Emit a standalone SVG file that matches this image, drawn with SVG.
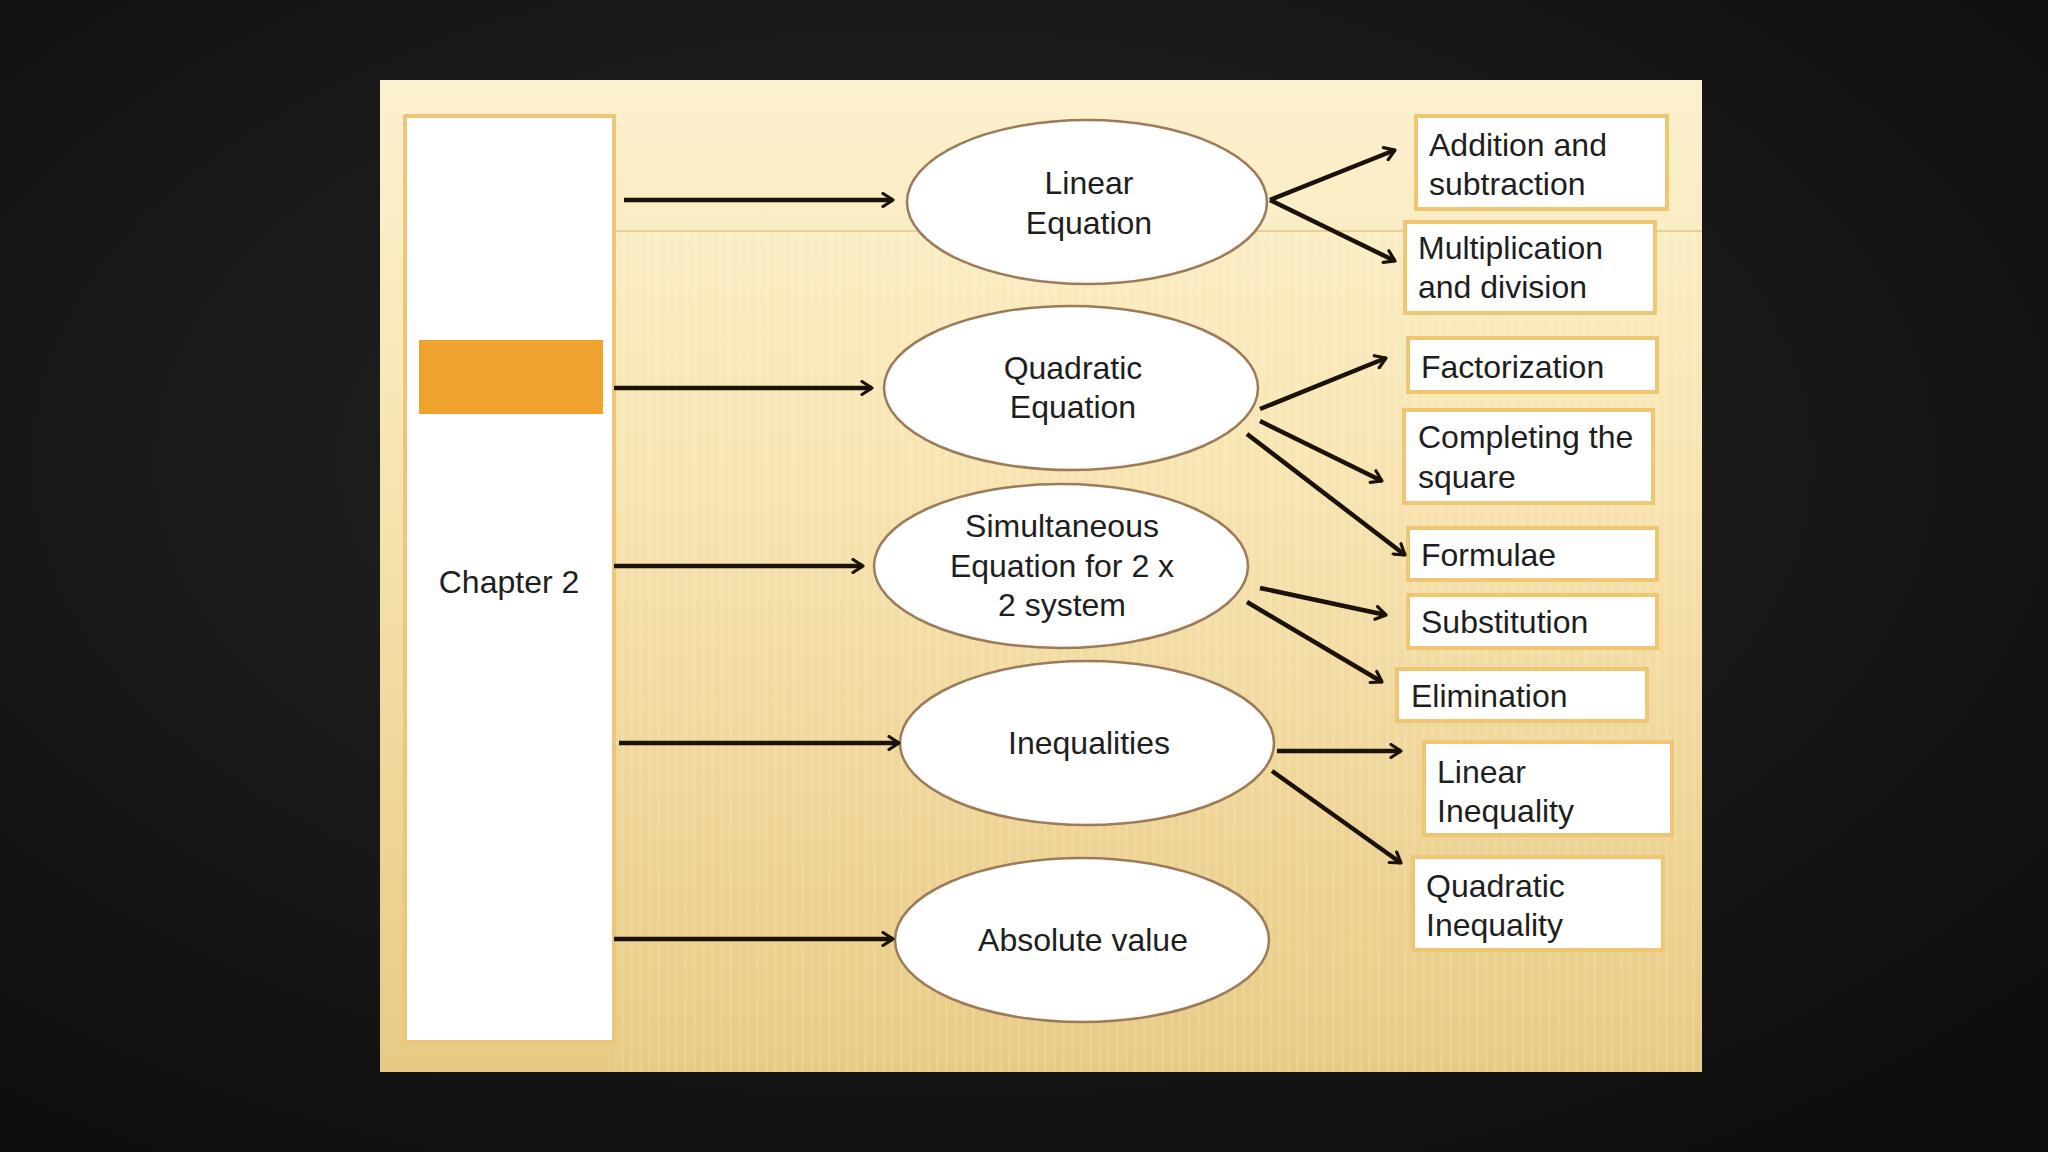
<svg xmlns="http://www.w3.org/2000/svg" width="2048" height="1152" viewBox="0 0 2048 1152">
  <defs>
    <radialGradient id="bg" cx="45%" cy="40%" r="75%">
      <stop offset="0" stop-color="#262626"/>
      <stop offset="1" stop-color="#0d0d0d"/>
    </radialGradient>
    <linearGradient id="panel" x1="0" y1="0" x2="0" y2="1">
      <stop offset="0" stop-color="#fcf1cf"/>
      <stop offset="0.35" stop-color="#f8e6b4"/>
      <stop offset="1" stop-color="#e8ca84"/>
    </linearGradient>
    <radialGradient id="ell" cx="48%" cy="45%" r="60%">
      <stop offset="0" stop-color="#ffffff"/>
      <stop offset="0.85" stop-color="#ffffff"/>
      <stop offset="1" stop-color="#f8f3ec"/>
    </radialGradient>
    <pattern id="stripes" width="9" height="40" patternUnits="userSpaceOnUse">
      <rect x="0" y="0" width="3" height="40" fill="#ffffff" opacity="0.18"/>
    </pattern>
    <marker id="arr" viewBox="0 0 16 16" refX="13" refY="8" markerWidth="16" markerHeight="16" markerUnits="userSpaceOnUse" orient="auto">
      <polyline points="3,1.5 13,8 3,14.5" fill="none" stroke="#1b120a" stroke-width="3.2" stroke-linecap="round" stroke-linejoin="round"/>
    </marker>
    <style>
      .ellipse { fill: url(#ell); stroke: #9c7b5a; stroke-width: 2.5; }
      .box { fill: #ffffff; stroke: #f0c672; stroke-width: 4; }
      .t { font-family: "Liberation Sans", Arial, sans-serif; font-size: 32px; fill: #1e1e1e; }
      .c { text-anchor: middle; }
      .conn line { stroke: #1b120a; stroke-width: 4.5; marker-end: url(#arr); }
    </style>
  </defs>

  <rect x="0" y="0" width="2048" height="1152" fill="url(#bg)"/>

  <g id="panel">
    <rect x="380" y="80" width="1322" height="992" fill="url(#panel)"/>
    <rect x="614" y="232" width="1088" height="840" fill="url(#stripes)" opacity="0.6"/>
    <line x1="614" y1="231" x2="1702" y2="231" stroke="#e6d09a" stroke-width="2"/>
  </g>

  <g id="chapter">
    <rect x="405" y="116" width="209" height="926" fill="#ffffff" stroke="#ecc779" stroke-width="4"/>
    <rect x="419" y="340" width="184" height="74" fill="#f0a22f"/>
    <text class="t c" x="509" y="593">Chapter 2</text>
  </g>

  <g id="linear-equation">
    <ellipse class="ellipse" cx="1087" cy="202" rx="180" ry="82"/>
    <text class="t c" x="1089" y="194">Linear</text>
    <text class="t c" x="1089" y="234">Equation</text>
  </g>
  <g id="quadratic-equation">
    <ellipse class="ellipse" cx="1071" cy="388" rx="187" ry="82"/>
    <text class="t c" x="1073" y="379">Quadratic</text>
    <text class="t c" x="1073" y="418">Equation</text>
  </g>
  <g id="simultaneous-equation">
    <ellipse class="ellipse" cx="1061" cy="566" rx="187" ry="82"/>
    <text class="t c" x="1062" y="537">Simultaneous</text>
    <text class="t c" x="1062" y="577">Equation for 2 x</text>
    <text class="t c" x="1062" y="616">2 system</text>
  </g>
  <g id="inequalities">
    <ellipse class="ellipse" cx="1087" cy="743" rx="187" ry="82"/>
    <text class="t c" x="1089" y="754">Inequalities</text>
  </g>
  <g id="absolute-value">
    <ellipse class="ellipse" cx="1082" cy="940" rx="187" ry="82"/>
    <text class="t c" x="1083" y="951">Absolute value</text>
  </g>

  <g id="addition-subtraction">
    <rect class="box" x="1416" y="116" width="251" height="93"/>
    <text class="t" x="1429" y="156">Addition and</text>
    <text class="t" x="1429" y="195">subtraction</text>
  </g>
  <g id="multiplication-division">
    <rect class="box" x="1405" y="222" width="250" height="91"/>
    <text class="t" x="1418" y="259">Multiplication</text>
    <text class="t" x="1418" y="298">and division</text>
  </g>
  <g id="factorization">
    <rect class="box" x="1408" y="338" width="249" height="54"/>
    <text class="t" x="1421" y="378">Factorization</text>
  </g>
  <g id="completing-square">
    <rect class="box" x="1404" y="410" width="249" height="93"/>
    <text class="t" x="1418" y="448">Completing the</text>
    <text class="t" x="1418" y="488">square</text>
  </g>
  <g id="formulae">
    <rect class="box" x="1408" y="528" width="249" height="52"/>
    <text class="t" x="1421" y="566">Formulae</text>
  </g>
  <g id="substitution">
    <rect class="box" x="1408" y="595" width="249" height="53"/>
    <text class="t" x="1421" y="633">Substitution</text>
  </g>
  <g id="elimination">
    <rect class="box" x="1397" y="669" width="250" height="52"/>
    <text class="t" x="1411" y="707">Elimination</text>
  </g>
  <g id="linear-inequality">
    <rect class="box" x="1424" y="742" width="248" height="93"/>
    <text class="t" x="1437" y="783">Linear</text>
    <text class="t" x="1437" y="822">Inequality</text>
  </g>
  <g id="quadratic-inequality">
    <rect class="box" x="1413" y="857" width="250" height="93"/>
    <text class="t" x="1426" y="897">Quadratic</text>
    <text class="t" x="1426" y="936">Inequality</text>
  </g>

  <g id="connectors" class="conn">
    <line x1="624" y1="200" x2="893" y2="200"/>
    <line x1="614" y1="388" x2="872" y2="388"/>
    <line x1="614" y1="566" x2="863" y2="566"/>
    <line x1="619" y1="743" x2="899" y2="743"/>
    <line x1="614" y1="939" x2="893" y2="939"/>

    <line x1="1270" y1="200" x2="1395" y2="150"/>
    <line x1="1270" y1="200" x2="1395" y2="261"/>
    <line x1="1260" y1="409" x2="1386" y2="358"/>
    <line x1="1260" y1="421" x2="1382" y2="481"/>
    <line x1="1247" y1="434" x2="1405" y2="555"/>
    <line x1="1260" y1="588" x2="1386" y2="615"/>
    <line x1="1247" y1="602" x2="1382" y2="682"/>
    <line x1="1277" y1="751" x2="1401" y2="751"/>
    <line x1="1272" y1="771" x2="1401" y2="863"/>
  </g>
</svg>
